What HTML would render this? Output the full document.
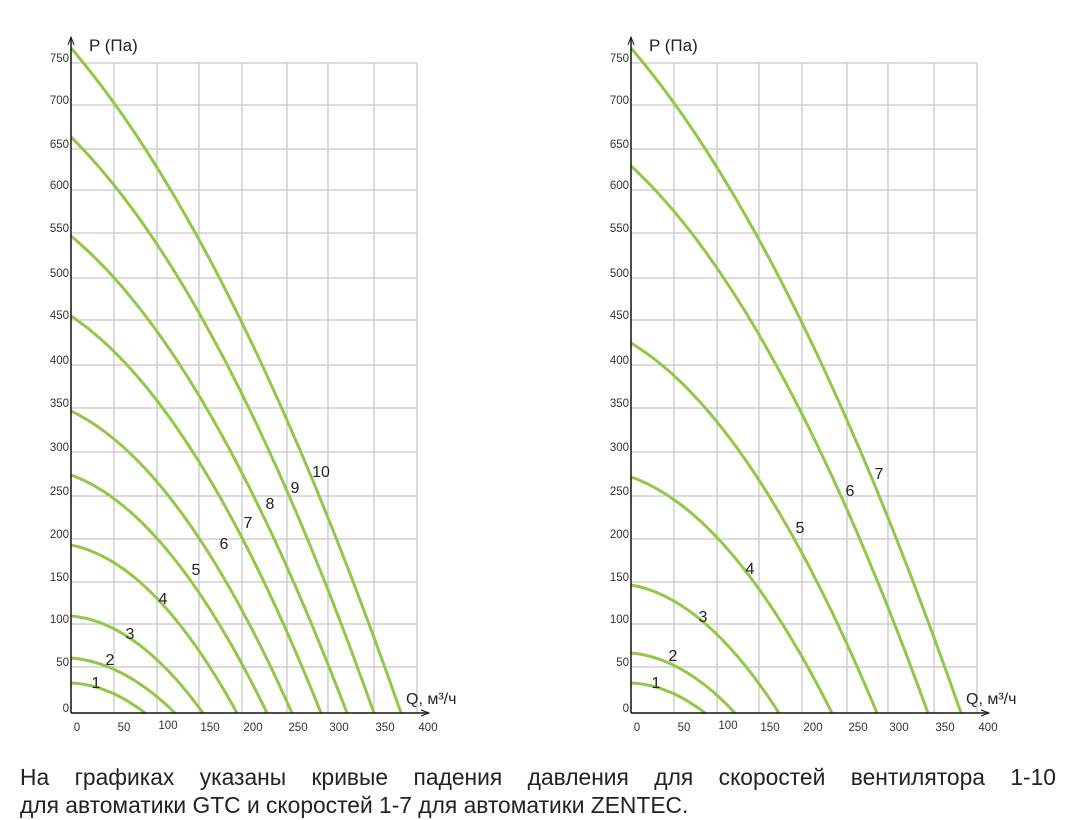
<!DOCTYPE html>
<html><head><meta charset="utf-8">
<style>
html,body{margin:0;padding:0;background:#fff;}
body{width:1075px;height:820px;position:relative;overflow:hidden;font-family:"Liberation Sans",sans-serif;}
svg{position:absolute;left:0;top:0;}
.t{position:absolute;left:20px;width:1036px;font-size:22.8px;line-height:28px;color:#222;font-family:"Liberation Sans","DejaVu Sans",sans-serif;white-space:nowrap;}
.l1{top:763px;text-align:justify;text-align-last:justify;}
.l2{top:791px;text-align:left;}
</style></head><body>
<svg id="s" width="1075" height="820" xmlns="http://www.w3.org/2000/svg" font-family="Liberation Sans, sans-serif"></svg>
<div class="t l1" style="white-space:normal">На графиках указаны кривые падения давления для скоростей вентилятора 1-10</div>
<div class="t l2">для автоматики GTC и скоростей 1-7 для автоматики ZENTEC.</div>
<script>
const s=document.getElementById('s');let h='';
const gx=[0,43,86,128,171,216,257,303,346];
const gy=[713,667,624,582,539,496,452,408,365,320,278,233,190,149,105,63];
function chart(ox,curves,labels){
  for(const x of gx.slice(1)) h+=`<line x1="${ox+x}" y1="63" x2="${ox+x}" y2="713" stroke="#c8c8c8" stroke-width="1.3"/>`;
  for(const y of gy.slice(1)) h+=`<line x1="${ox}" y1="${y}" x2="${ox+346}" y2="${y}" stroke="#c8c8c8" stroke-width="1.3"/>`;
  const yl=[0,50,100,150,200,250,300,350,400,450,500,550,600,650,700,750];
  yl.forEach((v,i)=>{h+=`<text x="${ox-2}" y="${gy[i]-1}" font-size="11.5" fill="#333" text-anchor="end">${v}</text>`;});
  const xo=[6,10,11,11,11,11,11,11,11];
  [0,50,100,150,200,250,300,350,400].forEach((v,i)=>{h+=`<text x="${ox+gx[i]+xo[i]}" y="${i==2?729:731}" font-size="11.5" fill="#333" text-anchor="middle">${v}</text>`;});
  for(const c of curves){
    const [x1,y0,a]=c;let d='';const N=60;
    for(let i=0;i<=N;i++){const f=i/N;const p=1-a*f-(1-a)*f*f;const x=ox+(x1-ox)*f;const y=713-(713-y0)*p;d+=(i?'L':'M')+x.toFixed(1)+' '+y.toFixed(1);}
    h+=`<path d="${d}" fill="none" stroke="#92c84a" stroke-width="3"/>`;
  }
  for(const l of labels) h+=`<text x="${l[1]}" y="${l[2]+6}" font-size="16" fill="#222" text-anchor="middle">${l[0]}</text>`;
  h+=`<line x1="${ox}" y1="713" x2="${ox}" y2="38" stroke="#111" stroke-width="1.5"/>`;
  h+=`<path d="M${ox-3} 45 L${ox} 37 L${ox+3} 45" fill="none" stroke="#111" stroke-width="1"/>`;
  h+=`<line x1="${ox}" y1="713" x2="${ox+357}" y2="713" stroke="#111" stroke-width="1.5"/>`;
  h+=`<path d="M${ox+350} 710 L${ox+358} 713 L${ox+350} 716" fill="none" stroke="#111" stroke-width="1"/>`;
  h+=`<text x="${ox+18}" y="51" font-size="17" fill="#222">P (Па)</text>`;
  h+=`<text x="${ox+335}" y="704" font-size="16" fill="#222">Q, м³/ч</text>`;
}
const L=71;
chart(L,[[145,683,0.1],[175,658,0.15],[203,616,0.12],[237,545,0.2],[267,475,0.3],[292,411,0.35],[321,316,0.42],[347,236,0.48],[374,137,0.52],[401,48,0.58]],
 [[1,96,682],[2,110,659],[3,130,633],[4,163,598],[5,196,569],[6,224,543],[7,248,522],[8,270,503],[9,295,487],[10,321,471]]);
chart(631,[[705,683,0.1],[735,653,0.15],[779,585,0.2],[832,477,0.3],[877,343,0.4],[928,166,0.5],[961,48,0.58]],
 [[1,656,682],[2,673,655],[3,703,616],[4,750,568],[5,800,527],[6,850,490],[7,879,473]]);
s.innerHTML=h;
</script>
</body></html>
